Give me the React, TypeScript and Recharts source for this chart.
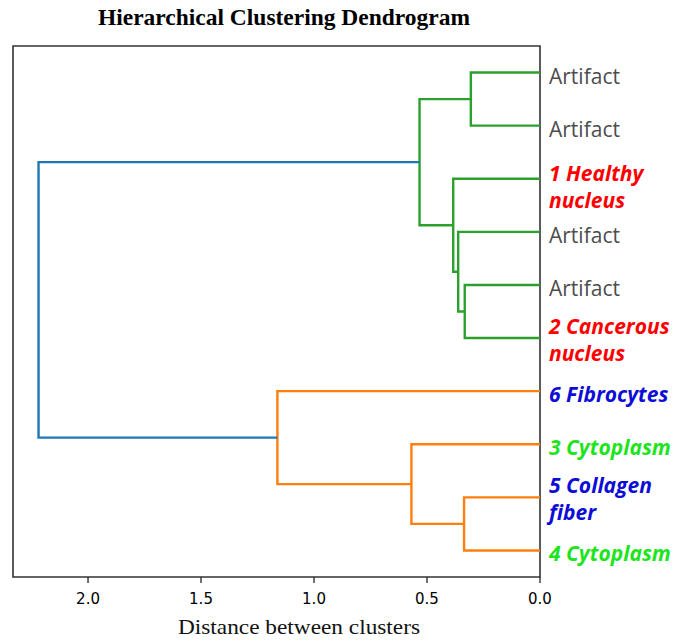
import { ScatterChart, Scatter, XAxis, YAxis, ReferenceArea } from "recharts"

// leaf order, top to bottom (scipy style positions 5, 15, ..., 95)
const leafPos = [5, 15, 25, 35, 45, 55, 65, 75, 85, 95]
const leafLines = [
  ["Artifact"],
  ["Artifact"],
  ["1 Healthy", "nucleus"],
  ["Artifact"],
  ["Artifact"],
  ["2 Cancerous", "nucleus"],
  ["6 Fibrocytes"],
  ["3 Cytoplasm"],
  ["5 Collagen", "fiber"],
  ["4 Cytoplasm"],
]
const leafColors = ["#4d4d4d", "#4d4d4d", "#ff0000", "#4d4d4d", "#4d4d4d", "#ff0000", "#0d0dd6", "#1ee41e", "#0d0dd6", "#1ee41e"]

// links: icoord (leaf axis) and dcoord (distance), like scipy's dendrogram output
const linkPos = [
  [5, 5, 15, 15],
  [45, 45, 55, 55],
  [35, 35, 50, 50],
  [25, 25, 42.5, 42.5],
  [10, 10, 33.75, 33.75],
  [85, 85, 95, 95],
  [75, 75, 90, 90],
  [65, 65, 82.5, 82.5],
  [21.875, 21.875, 73.75, 73.75],
]
const linkDist = [
  [0, 0.306, 0.306, 0],
  [0, 0.333, 0.333, 0],
  [0, 0.362, 0.362, 0.333],
  [0, 0.384, 0.384, 0.362],
  [0.306, 0.533, 0.533, 0.384],
  [0, 0.336, 0.336, 0],
  [0, 0.569, 0.569, 0.336],
  [0, 1.162, 1.162, 0.569],
  [0.533, 2.219, 2.219, 1.162],
]
const linkColors = ["#2ca02c", "#2ca02c", "#2ca02c", "#2ca02c", "#2ca02c", "#ff7f0e", "#ff7f0e", "#ff7f0e", "#1f77b4"]

const xTicks = [0, 0.5, 1, 1.5, 2]
const xMax = 2.332

const LeafTick = (props: any) => {
  const { x, y, payload } = props
  const i = leafPos.indexOf(payload.value)
  if (i < 0) return null
  const lines = leafLines[i]
  const plain = lines[0] === "Artifact"
  const offsets = lines.length === 1 ? [3] : i === 2 ? [-6, 21] : [-12, 15]
  return (
    <g>
      {lines.map((t, k) => (
        <text
          key={k}
          x={x + 1}
          y={y + offsets[k]}
          dominantBaseline="central"
          fill={leafColors[i]}
          fontFamily="'Open Sans', 'Noto Sans', sans-serif"
          fontSize={21}
          fontWeight={plain ? 400 : 700}
          fontStyle={plain ? "normal" : "italic"}
        >
          {t}
        </text>
      ))}
    </g>
  )
}

const Nothing = () => <g />

export default function App() {
  return (
    <div style={{ position: "absolute", left: 0, top: 0, width: 685, height: 643, background: "#fff" }}>
      <svg width={685} height={643} style={{ position: "absolute", left: 0, top: 0 }}>
        <text
          x={284}
          y={25}
          textAnchor="middle"
          fontFamily="'Liberation Serif', 'Times New Roman', serif"
          fontWeight="bold"
          fontSize={23}
          textLength={372}
          lengthAdjust="spacingAndGlyphs"
          fill="#000"
        >
          Hierarchical Clustering Dendrogram
        </text>
        <text
          x={299}
          y={634}
          textAnchor="middle"
          fontFamily="'Liberation Serif', 'Times New Roman', serif"
          fontSize={22}
          textLength={242}
          lengthAdjust="spacingAndGlyphs"
          fill="#111"
        >
          Distance between clusters
        </text>
      </svg>
      <div style={{ position: "absolute", left: 0, top: 0 }}>
        <ScatterChart width={685} height={643} margin={{ top: 46, right: 0, bottom: 36, left: 13 }}>
          <XAxis
            type="number"
            dataKey="x"
            domain={[0, xMax]}
            reversed
            allowDataOverflow
            ticks={xTicks}
            tickFormatter={(v: number) => v.toFixed(1)}
            tickSize={6}
            tickMargin={10}
            tickLine={{ stroke: "#222", strokeWidth: 1.3 }}
            axisLine={false}
            height={30}
            tick={{ fill: "#000", fontSize: 15, fontFamily: "'DejaVu Sans', sans-serif" }}
          />
          <YAxis
            type="number"
            dataKey="y"
            orientation="right"
            domain={[0, 100]}
            reversed
            allowDataOverflow
            ticks={leafPos}
            tick={<LeafTick />}
            tickLine={false}
            axisLine={false}
            width={145}
          />
          <ReferenceArea
            x1={0}
            x2={xMax}
            y1={0}
            y2={100}
            fill="none"
            fillOpacity={0}
            stroke="#333"
            strokeWidth={1.6}
            ifOverflow="visible"
          />
          {linkPos.map((ys, i) => (
            <Scatter
              key={i}
              data={ys.map((y, k) => ({ x: linkDist[i][k], y }))}
              line={{ stroke: linkColors[i], strokeWidth: 2.4 }}
              lineType="joint"
              shape={<Nothing />}
              isAnimationActive={false}
            />
          ))}
        </ScatterChart>
      </div>
    </div>
  )
}
